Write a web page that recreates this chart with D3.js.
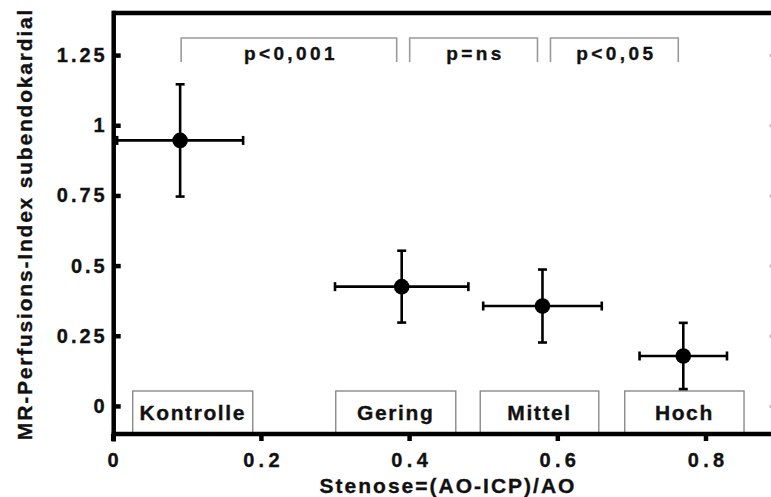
<!DOCTYPE html>
<html>
<head>
<meta charset="utf-8">
<script src="https://cdn.jsdelivr.net/npm/d3@7/dist/d3.min.js"></script>
<style>
  html, body { margin: 0; padding: 0; background: #fff; }
  svg { display: block; }
  text { font-family: "Liberation Sans", Arial, Helvetica, sans-serif; font-weight: bold; fill: #111; stroke: #111; stroke-width: 0.35px; }
</style>
</head>
<body>
<svg id="chart" width="771" height="497"></svg>
<script>
// Stenosis groups: mean stenosis index and subendocardial MR perfusion index (mean ± SD)
const groups = ["Kontrolle", "Gering", "Mittel", "Hoch"];
const stenosis = [0.091, 0.39, 0.58, 0.77];
const stenosisSD = [0.085, 0.09, 0.08, 0.059];
const perfusion = [0.946, 0.425, 0.356, 0.178];
const perfusionSD = [0.2, 0.128, 0.13, 0.118];

// Stenosis range covered by each group label
const rangeFrom = [0.027, 0.301, 0.496, 0.691];
const rangeTo = [0.189, 0.463, 0.656, 0.852];

// Pairwise comparisons between neighbouring groups
const comparisons = [[0, 1], [1, 2], [2, 3]];
const pLabels = ["p<0,001", "p=ns", "p<0,05"];

const xTicks = [0, 0.2, 0.4, 0.6, 0.8];
const yTicks = [0, 0.25, 0.5, 0.75, 1, 1.25];

const svg = d3.select("#chart");
const x = d3.scaleLinear().domain([0, 0.9]).range([112.7, 779.6]);
const y = d3.scaleLinear().domain([-0.1, 1.4]).range([434, 13]);

const AXW = 4.5;

// group label boxes resting on the x axis
const boxes = svg.append("g");
groups.forEach((g, i) => {
  const x0 = x(rangeFrom[i]), x1 = x(rangeTo[i]);
  boxes.append("rect")
    .attr("x", x0).attr("y", y(-0.1) - 43)
    .attr("width", x1 - x0).attr("height", 43)
    .attr("fill", "#fff").attr("stroke", "#8a8a8a").attr("stroke-width", 1.4);
  boxes.append("text")
    .attr("x", (x0 + x1) / 2).attr("y", 420)
    .attr("text-anchor", "middle")
    .attr("font-size", 21).attr("letter-spacing", 1.6)
    .text(g);
});

// comparison brackets along the top
const br = svg.append("g");
comparisons.forEach(([a, b], i) => {
  const xl = x(stenosis[a]) + (i ? 8 : 1);
  const xr = x(stenosis[b]) - 5;
  br.append("path")
    .attr("d", `M${xl},62 V38 H${xr} V62`)
    .attr("fill", "none").attr("stroke", "#9a9a9a").attr("stroke-width", 1.6);
  br.append("text")
    .attr("x", (xl + xr) / 2 + 2).attr("y", 60)
    .attr("text-anchor", "middle")
    .attr("font-size", 19).attr("letter-spacing", 3.4)
    .text(pLabels[i]);
});

// frame: top line and right axis (ticks only)
svg.append("line")
  .attr("x1", x(0)).attr("x2", x(0.9))
  .attr("y1", y(1.4)).attr("y2", y(1.4))
  .attr("stroke", "#000").attr("stroke-width", AXW);

svg.append("g")
  .attr("transform", `translate(${x(0.9)},0)`)
  .call(d3.axisRight(y).tickValues(yTicks).tickSize(-10).tickFormat(""))
  .call(g => g.select(".domain").remove())
  .call(g => g.selectAll("line").attr("stroke", "#bbb").attr("stroke-width", 3));

// y axis: inward ticks, labels to the left
const yAxis = svg.append("g")
  .attr("transform", `translate(${x(0) + 1},0)`)
  .call(d3.axisLeft(y).tickValues(yTicks).tickSizeInner(-7).tickSizeOuter(0)
    .tickPadding(9).tickFormat(d => String(d)));
yAxis.select(".domain").remove();
yAxis.selectAll("line").attr("stroke", "#000").attr("stroke-width", AXW);
yAxis.selectAll("text")
  .attr("font-size", 20).attr("letter-spacing", 3).attr("dx", 3)
  .style("font-family", "'Liberation Sans', Arial, sans-serif").style("font-weight", "bold")
  .attr("fill", "#111");
yAxis.append("line")
  .attr("x1", 0).attr("x2", 0)
  .attr("y1", y(1.4) - AXW / 2).attr("y2", 441.5)
  .attr("stroke", "#000").attr("stroke-width", AXW);

// x axis: outward ticks
const xAxis = svg.append("g")
  .attr("transform", `translate(0,${y(-0.1)})`)
  .call(d3.axisBottom(x).tickValues(xTicks).tickSizeInner(7).tickSizeOuter(0)
    .tickPadding(12).tickFormat(d => String(d)));
xAxis.select(".domain").remove();
xAxis.selectAll("line").attr("stroke", "#000").attr("stroke-width", AXW);
xAxis.selectAll("text")
  .attr("font-size", 20).attr("letter-spacing", 4.3).attr("dx", 2.1)
  .style("font-family", "'Liberation Sans', Arial, sans-serif").style("font-weight", "bold")
  .attr("fill", "#111");
xAxis.append("line")
  .attr("x1", x(0) - 1).attr("x2", x(0.9))
  .attr("y1", 0).attr("y2", 0)
  .attr("stroke", "#000").attr("stroke-width", AXW);

// axis titles
svg.append("text")
  .attr("transform", "translate(448,493) ")
  .attr("text-anchor", "middle")
  .attr("font-size", 21).attr("letter-spacing", 2)
  .text("Stenose=(AO-ICP)/AO");

svg.append("text")
  .attr("transform", "translate(32,224) rotate(-90)")
  .attr("text-anchor", "middle")
  .attr("font-size", 21).attr("letter-spacing", 1.8)
  .text("MR-Perfusions-Index subendokardial");

// points with horizontal and vertical SD bars
const pts = svg.append("g").attr("stroke", "#000").attr("stroke-width", 2.6);
groups.forEach((g, i) => {
  const cx = x(stenosis[i]), cy = y(perfusion[i]);
  const xl = x(stenosis[i] - stenosisSD[i]), xr = x(stenosis[i] + stenosisSD[i]);
  const yt = y(perfusion[i] + perfusionSD[i]), yb = y(perfusion[i] - perfusionSD[i]);
  const cap = 4.5;
  pts.append("line").attr("x1", xl).attr("x2", xr).attr("y1", cy).attr("y2", cy);
  pts.append("line").attr("x1", cx).attr("x2", cx).attr("y1", yt).attr("y2", yb);
  pts.append("line").attr("x1", xl).attr("x2", xl).attr("y1", cy - cap).attr("y2", cy + cap);
  pts.append("line").attr("x1", xr).attr("x2", xr).attr("y1", cy - cap).attr("y2", cy + cap);
  pts.append("line").attr("x1", cx - cap).attr("x2", cx + cap).attr("y1", yt).attr("y2", yt);
  pts.append("line").attr("x1", cx - cap).attr("x2", cx + cap).attr("y1", yb).attr("y2", yb);
  pts.append("circle").attr("cx", cx).attr("cy", cy).attr("r", 7.8)
    .attr("fill", "#000").attr("stroke", "none");
});
</script>
</body>
</html>
